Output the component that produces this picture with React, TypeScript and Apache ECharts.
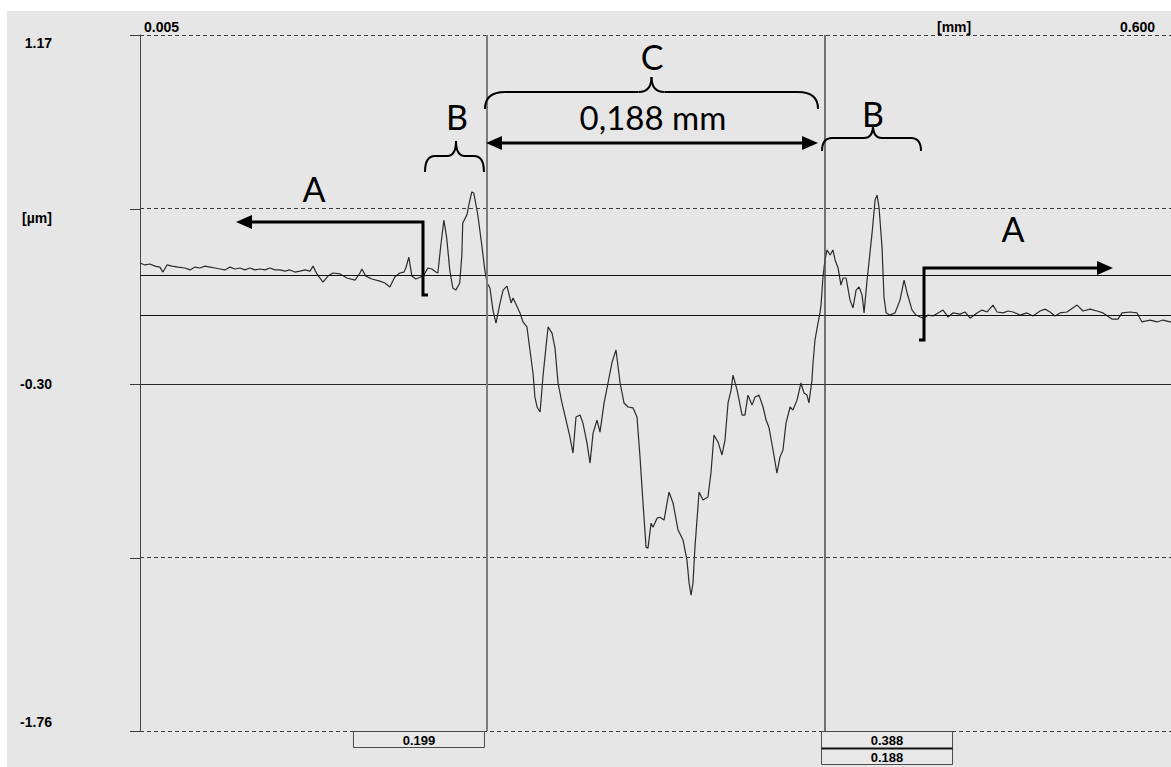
import React, { useEffect, useRef } from 'react';
import * as echarts from 'echarts';

// Axis ranges
const X_MIN = 0.005;
const X_MAX = 0.6;
const Y_MIN = -1.76;
const Y_MAX = 1.17;

// Horizontal grid levels [µm]
const yGridDashed = [1.17, 0.4375, -1.0325, -1.76];
const yGridSolid = [-0.3];
const yTickValues = [1.17, 0.4375, -0.3, -1.0325, -1.76];
const yLabelValues = [1.17, -0.3, -1.76];
const yLabelTexts = ['1.17', '-0.30', '-1.76'];
const xLabelTexts = ['0.005', '[mm]', '0.600'];
const yUnit = '[µm]';

// Reference levels and cursor positions
const refLevels = [0.164, -0.009];
const cuts = [0.199, 0.388];
const cutLabels = ['0.199', '0.388', '0.188'];
const measureText = '0,188 mm';

// Profile [mm, µm]
const flatLeft = [
  [0.005, 0.21], [0.0078, 0.202], [0.0106, 0.206], [0.0134, 0.197], [0.0162, 0.193], [0.0179, 0.172],
  [0.0202, 0.202], [0.023, 0.197], [0.0264, 0.193], [0.0303, 0.189], [0.0331, 0.181], [0.0359, 0.193],
  [0.0387, 0.189], [0.0416, 0.197], [0.0444, 0.193], [0.0472, 0.189], [0.05, 0.185], [0.0528, 0.181],
  [0.0556, 0.193], [0.0584, 0.185], [0.0612, 0.189], [0.064, 0.181], [0.0668, 0.189], [0.0697, 0.181],
  [0.0725, 0.185], [0.0753, 0.181], [0.0781, 0.189], [0.0809, 0.181], [0.0837, 0.181], [0.0865, 0.176],
  [0.0893, 0.181], [0.0921, 0.172], [0.095, 0.176], [0.0978, 0.181], [0.1006, 0.176], [0.1023, 0.197],
  [0.1045, 0.164], [0.1079, 0.13], [0.1107, 0.155], [0.1135, 0.168], [0.1175, 0.164], [0.1214, 0.147],
  [0.1259, 0.138], [0.1287, 0.168], [0.1298, 0.185], [0.132, 0.155], [0.1354, 0.143], [0.1399, 0.134],
  [0.1427, 0.126], [0.1455, 0.109], [0.1483, 0.151], [0.1511, 0.168], [0.1534, 0.172], [0.1545, 0.189],
  [0.1562, 0.235], [0.1579, 0.155], [0.1601, 0.143], [0.1629, 0.151], [0.1646, 0.159], [0.1669, 0.189],
  [0.1691, 0.185], [0.1714, 0.172],
];
const bandLeft = [
  [0.1725, 0.168], [0.1742, 0.286], [0.1759, 0.391], [0.1775, 0.315], [0.1792, 0.181], [0.1809, 0.105],
  [0.1826, 0.096], [0.1848, 0.126], [0.186, 0.244], [0.1865, 0.378], [0.1888, 0.412], [0.1905, 0.475],
  [0.1916, 0.509], [0.1927, 0.505], [0.195, 0.412], [0.1972, 0.286], [0.1989, 0.181],
];
const crater = [
  [0.2002, 0.126], [0.2018, 0.105], [0.2035, 0.012], [0.2052, -0.043], [0.2075, 0.042], [0.2092, 0.096],
  [0.2114, 0.113], [0.2137, 0.042], [0.2148, 0.063], [0.2187, 0.0], [0.2204, -0.038], [0.2226, -0.059],
  [0.2243, -0.156], [0.226, -0.253], [0.2271, -0.354], [0.2283, -0.396], [0.23, -0.417], [0.2316, -0.27],
  [0.2333, -0.144], [0.2345, -0.059], [0.2367, -0.085], [0.2384, -0.148], [0.2401, -0.295], [0.2423, -0.379],
  [0.2446, -0.451], [0.2468, -0.523], [0.2485, -0.59], [0.2502, -0.438], [0.2525, -0.43], [0.2541, -0.464],
  [0.2564, -0.548], [0.2581, -0.632], [0.2598, -0.506], [0.262, -0.451], [0.2637, -0.502], [0.266, -0.379],
  [0.2682, -0.295], [0.2705, -0.207], [0.2727, -0.156], [0.275, -0.295], [0.2772, -0.379], [0.2795, -0.396],
  [0.2823, -0.4], [0.2845, -0.438], [0.2862, -0.607], [0.2879, -0.801], [0.2896, -0.986], [0.2907, -0.99],
  [0.2924, -0.885], [0.2935, -0.902], [0.2958, -0.864], [0.2974, -0.86], [0.2997, -0.872], [0.3025, -0.754],
  [0.3048, -0.801], [0.3076, -0.914], [0.3104, -0.956], [0.3126, -1.041], [0.3138, -1.137], [0.3149, -1.188],
  [0.316, -1.137], [0.3171, -0.986], [0.3194, -0.754], [0.3216, -0.788], [0.3244, -0.775], [0.3261, -0.674],
  [0.3278, -0.514], [0.3301, -0.544], [0.3323, -0.598], [0.334, -0.535], [0.3357, -0.379], [0.3374, -0.325],
  [0.3385, -0.262], [0.3408, -0.325], [0.3436, -0.43], [0.3452, -0.43], [0.3469, -0.346], [0.3492, -0.388],
  [0.3509, -0.354], [0.3531, -0.346], [0.3554, -0.396], [0.3571, -0.451], [0.3587, -0.481], [0.361, -0.577],
  [0.3632, -0.674], [0.3649, -0.607], [0.3666, -0.577], [0.3683, -0.464], [0.3706, -0.396], [0.3722, -0.409],
  [0.3745, -0.367], [0.3767, -0.295], [0.3784, -0.337], [0.3801, -0.346], [0.3812, -0.379], [0.3829, -0.283],
  [0.3835, -0.211], [0.3846, -0.114], [0.3863, -0.043], [0.3874, 0.0],
];
const bandRight = [
  [0.388, 0.033], [0.3891, 0.151], [0.3902, 0.223], [0.3914, 0.265], [0.3931, 0.244], [0.3947, 0.265],
  [0.3959, 0.223], [0.3976, 0.189], [0.3992, 0.117], [0.4004, 0.147], [0.4021, 0.147], [0.4043, 0.054],
  [0.406, 0.021], [0.4077, 0.096], [0.4094, 0.109], [0.4111, 0.075], [0.4122, 0.0], [0.4139, 0.138],
  [0.4167, 0.336], [0.4184, 0.475], [0.4195, 0.496], [0.4206, 0.446], [0.4223, 0.277], [0.4234, 0.067],
  [0.4246, 0.0], [0.4268, -0.009], [0.4296, 0.0], [0.4324, 0.054], [0.4347, 0.138], [0.4364, 0.084],
  [0.4392, 0.012], [0.4414, -0.009],
];
const flatRight = [
  [0.4437, -0.017], [0.4459, -0.022], [0.4482, -0.009], [0.451, -0.013], [0.4538, 0.0], [0.4566, 0.012],
  [0.4594, -0.017], [0.4622, 0.0], [0.4662, -0.005], [0.469, 0.004], [0.4718, -0.022], [0.4757, 0.0],
  [0.4786, 0.012], [0.4814, 0.004], [0.4847, 0.033], [0.487, 0.004], [0.4904, 0.0], [0.4932, 0.008],
  [0.496, 0.004], [0.4999, -0.009], [0.5038, 0.0], [0.5072, -0.013], [0.5112, 0.008], [0.514, 0.016],
  [0.5168, 0.004], [0.5196, -0.013], [0.5224, 0.0], [0.5263, 0.004], [0.532, 0.033], [0.5353, 0.008],
  [0.5393, 0.016], [0.5432, 0.008], [0.5466, 0.0], [0.5516, -0.026], [0.555, -0.026], [0.5573, 0.0],
  [0.5618, 0.004], [0.5657, 0.0], [0.5685, -0.038], [0.573, -0.03], [0.577, -0.038], [0.5803, -0.03],
  [0.5843, -0.038], [0.59, -0.034], [0.6, -0.036],
];

const LABEL_FONT = '"Liberation Sans", Arial, sans-serif';
const ANNOT_FONT = 'Lato, "Open Sans", sans-serif';

function brace(x1: number, x2: number, yb: number, yh: number, yt: number, rEnd: number, rTip: number, xm?: number) {
  const m = xm ?? (x1 + x2) / 2;
  const st = { stroke: '#000', lineWidth: 2, fill: null };
  return [
    { type: 'bezierCurve', z: 100, shape: { x1, y1: yb, x2: x1 + rEnd, y2: yh, cpx1: x1, cpy1: yh }, style: st },
    { type: 'line', z: 100, shape: { x1: x1 + rEnd, y1: yh, x2: m - rTip, y2: yh }, style: st },
    { type: 'bezierCurve', z: 100, shape: { x1: m - rTip, y1: yh, x2: m, y2: yt, cpx1: m, cpy1: yh }, style: st },
    { type: 'bezierCurve', z: 100, shape: { x1: m, y1: yt, x2: m + rTip, y2: yh, cpx1: m, cpy1: yh }, style: st },
    { type: 'line', z: 100, shape: { x1: m + rTip, y1: yh, x2: x2 - rEnd, y2: yh }, style: st },
    { type: 'bezierCurve', z: 100, shape: { x1: x2 - rEnd, y1: yh, x2, y2: yb, cpx1: x2, cpy1: yh }, style: st },
  ];
}

function txt(text: string, x: number, y: number, font: string, align: string, valign: string, z = 100) {
  return {
    type: 'text', z,
    style: { text, x, y, font, fill: '#000', align, verticalAlign: valign, textAlign: align, textVerticalAlign: valign },
  };
}

export default function App() {
  const ref = useRef<HTMLDivElement>(null);
  useEffect(() => {
    const el = ref.current!;
    const chart = echarts.init(el, null, { renderer: 'svg' });
    const profile = [...flatLeft, ...bandLeft, ...crater, ...bandRight, ...flatRight];
    const dashed = { type: [4, 3], color: '#3c3c3c', width: 1 };
    const markData: any[] = [
      ...yGridDashed.map((v) => ({ yAxis: v, lineStyle: dashed })),
      ...yGridSolid.map((v) => ({ yAxis: v, lineStyle: { type: 'solid', color: '#2a2a2a', width: 1 } })),
      ...refLevels.map((v) => ({ yAxis: v, lineStyle: { type: 'solid', color: '#111', width: 1 } })),
      { xAxis: cuts[0], lineStyle: { type: 'solid', color: '#7c7c7c', width: 2 } },
      { xAxis: cuts[1], lineStyle: { type: 'solid', color: '#4a4a4a', width: 1.5 } },
    ];
    chart.setOption({
      animation: false,
      grid: { left: 140, top: 35, width: 1058, height: 696, containLabel: false, outerBoundsMode: 'none' },
      xAxis: { type: 'value', min: X_MIN, max: X_MAX, show: false },
      yAxis: {
        type: 'value', min: Y_MIN, max: Y_MAX,
        axisLine: { show: true, onZero: false, lineStyle: { color: '#454545', width: 1 } },
        axisTick: { show: false }, axisLabel: { show: false }, splitLine: { show: false },
      },
      series: [{
        type: 'line', data: profile, showSymbol: false, symbol: 'none',
        lineStyle: { color: '#2b2b2b', width: 1.2 },
        markLine: { silent: true, symbol: ['none', 'none'], label: { show: false }, data: markData, animation: false },
      }],
    });

    const px = (v: number) => chart.convertToPixel({ xAxisIndex: 0 }, v) as number;
    const py = (v: number) => chart.convertToPixel({ yAxisIndex: 0 }, v) as number;
    const x1 = px(cuts[0]);
    const x2 = px(cuts[1]);
    const gx = px(X_MIN);
    const labelFont = `bold 14px ${LABEL_FONT}`;
    const boxFont = `bold 13px ${LABEL_FONT}`;

    const els: any[] = [];
    // y ticks
    yTickValues.forEach((v) => {
      const y = Math.round(py(v)) + 0.5;
      els.push({ type: 'line', z: 50, shape: { x1: gx - 10, y1: y, x2: gx, y2: y }, style: { stroke: '#3c3c3c', lineWidth: 1 } });
    });
    // y labels
    yLabelValues.forEach((v, i) => {
      const y = py(v);
      const va = i === 0 ? 'top' : i === yLabelValues.length - 1 ? 'bottom' : 'middle';
      const dy = i === 0 ? 1 : i === yLabelValues.length - 1 ? -2 : 0;
      els.push(txt(yLabelTexts[i], 52, y + dy, labelFont, 'right', va));
    });
    els.push(txt(yUnit, 22, 218, labelFont, 'left', 'middle'));
    // x labels
    const yTop = py(Y_MAX);
    els.push(txt(xLabelTexts[0], gx + 4, yTop - 1, labelFont, 'left', 'bottom'));
    els.push(txt(xLabelTexts[1], 937, yTop - 1, labelFont, 'left', 'bottom'));
    els.push(txt(xLabelTexts[2], 1155, yTop - 1, labelFont, 'right', 'bottom'));

    // cursor value boxes
    const yBot = Math.round(py(Y_MIN));
    const bw = 132;
    const boxStyle = { fill: '#e8e8e8', stroke: '#4a4a4a', lineWidth: 1 };
    els.push({ type: 'rect', z: 60, shape: { x: x1 - bw + 0.5, y: yBot + 0.5, width: bw - 1, height: 16 }, style: boxStyle });
    els.push(txt(cutLabels[0], x1 - bw / 2, yBot + 9, boxFont, 'center', 'middle', 61));
    els.push({ type: 'rect', z: 60, shape: { x: x2 + 0.5, y: yBot + 0.5, width: bw - 1, height: 17 }, style: boxStyle });
    els.push({ type: 'rect', z: 60, shape: { x: x2 + 0.5, y: yBot + 17.5, width: bw - 1, height: 16 }, style: boxStyle });
    els.push({ type: 'line', z: 61, shape: { x1: x2 + 0.5, y1: yBot + 17.5, x2: x2 + bw - 0.5, y2: yBot + 17.5 }, style: { stroke: '#111', lineWidth: 2 } });
    els.push(txt(cutLabels[1], x2 + bw / 2, yBot + 9, boxFont, 'center', 'middle', 61));
    els.push(txt(cutLabels[2], x2 + bw / 2, yBot + 26, boxFont, 'center', 'middle', 61));

    // annotations
    const thick = { stroke: '#000', lineWidth: 3, fill: null };
    // left A
    els.push({ type: 'polyline', z: 100, shape: { points: [[428, 295], [423, 295], [423, 222], [250, 222]] }, style: thick });
    els.push({ type: 'polygon', z: 100, shape: { points: [[236, 222], [252, 215], [252, 229]] }, style: { fill: '#000' } });
    els.push(txt('A', 314, 188, `34px ${ANNOT_FONT}`, 'center', 'middle'));
    // right A
    els.push({ type: 'polyline', z: 100, shape: { points: [[919, 340], [924, 340], [924, 268], [1100, 268]] }, style: thick });
    els.push({ type: 'polygon', z: 100, shape: { points: [[1113, 268], [1097, 261], [1097, 275]] }, style: { fill: '#000' } });
    els.push(txt('A', 1013, 228, `34px ${ANNOT_FONT}`, 'center', 'middle'));
    // B braces
    els.push(...brace(425, x1 - 1, 172, 156, 141, 10, 9, 456));
    els.push(txt('B', 457, 116, `34px ${ANNOT_FONT}`, 'center', 'middle'));
    els.push(...brace(x2 + 1, 921, 151, 138, 125, 10, 9, 873));
    els.push(txt('B', 873, 113, `34px ${ANNOT_FONT}`, 'center', 'middle'));
    // C brace
    els.push(...brace(x1, x2 - 3, 109, 92, 77, 20, 13));
    els.push(txt('C', 652, 56, `34px ${ANNOT_FONT}`, 'center', 'middle'));
    // double arrow
    const ya = 143;
    els.push({ type: 'line', z: 100, shape: { x1: x1 + 14, y1: ya, x2: x2 - 16, y2: ya }, style: { stroke: '#000', lineWidth: 3 } });
    els.push({ type: 'polygon', z: 100, shape: { points: [[x1 + 1, ya], [x1 + 17, ya - 7], [x1 + 17, ya + 7]] }, style: { fill: '#000' } });
    els.push({ type: 'polygon', z: 100, shape: { points: [[x2 - 3, ya], [x2 - 19, ya - 7], [x2 - 19, ya + 7]] }, style: { fill: '#000' } });
    els.push(txt(measureText, 653, 117, `33px ${ANNOT_FONT}`, 'center', 'middle'));

    chart.setOption({ graphic: { elements: els } });
    return () => chart.dispose();
  }, []);

  return (
    <div style={{ position: 'fixed', left: 0, top: 0, width: 1171, height: 767, background: '#fff', overflow: 'hidden' }}>
      <div style={{ position: 'absolute', left: 7, top: 11, right: 0, bottom: 0, background: '#e6e6e6' }} />
      <div ref={ref} style={{ position: 'absolute', left: 0, top: 0, width: 1171, height: 767 }} />
    </div>
  );
}
